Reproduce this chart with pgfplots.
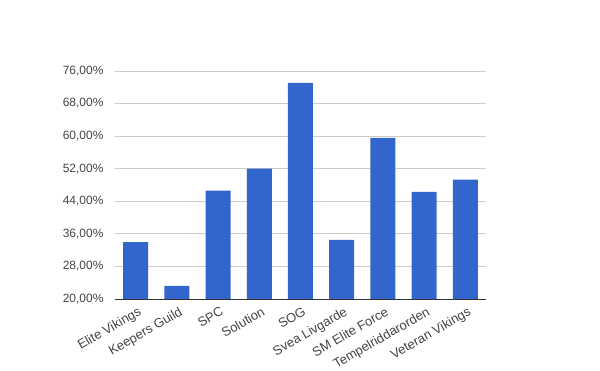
\documentclass[border=0pt]{standalone}
\usepackage{fontspec}
\setmainfont{Liberation Sans}
\usepackage{pgfplots}
\pgfplotsset{compat=1.18}
\definecolor{barblue}{HTML}{3366CC}
\definecolor{gridgray}{HTML}{CCCCCC}
\definecolor{txt}{HTML}{444444}
\definecolor{base}{HTML}{333333}
\begin{document}
\begin{tikzpicture}
\useasboundingbox (-115bp,-72bp) rectangle (485bp,299bp);
\begin{axis}[
  at={(0,0)}, anchor=south west,
  scale only axis, width=371bp, height=228bp,
  xmin=-0.5, xmax=8.5, ymin=20, ymax=76,
  ytick={20,28,...,76},
  yticklabels={{20,00\%},{28,00\%},{36,00\%},{44,00\%},{52,00\%},{60,00\%},{68,00\%},{76,00\%}},
  xtick={0,...,8},
  xticklabels={Elite Vikings, Keepers Guild, SPC, Solution, SOG, Svea Livgarde, SM Elite Force, Tempelriddarorden, Veteran Vikings},
  major tick length=0pt,
  ymajorgrids, grid style={gridgray, line width=1bp},
  axis line style={draw=none},
  tick label style={font=\fontsize{12bp}{14bp}\selectfont, text=txt},
  yticklabel style={xshift=-8bp},
  xticklabel style={font=\fontsize{13bp}{15bp}\selectfont, rotate=30, anchor=north east, inner sep=1bp, xshift=-1bp, yshift=-6bp},
  ybar, bar width=25bp,
]
\addplot[fill=barblue, draw=none] coordinates {
  (0,34.0) (1,23.2) (2,46.6) (3,52.0) (4,73.1) (5,34.5) (6,59.6) (7,46.3) (8,49.3)
};
\draw[base, line width=1bp] (rel axis cs:0,0) -- (rel axis cs:1,0);
\end{axis}
\end{tikzpicture}
\end{document}
